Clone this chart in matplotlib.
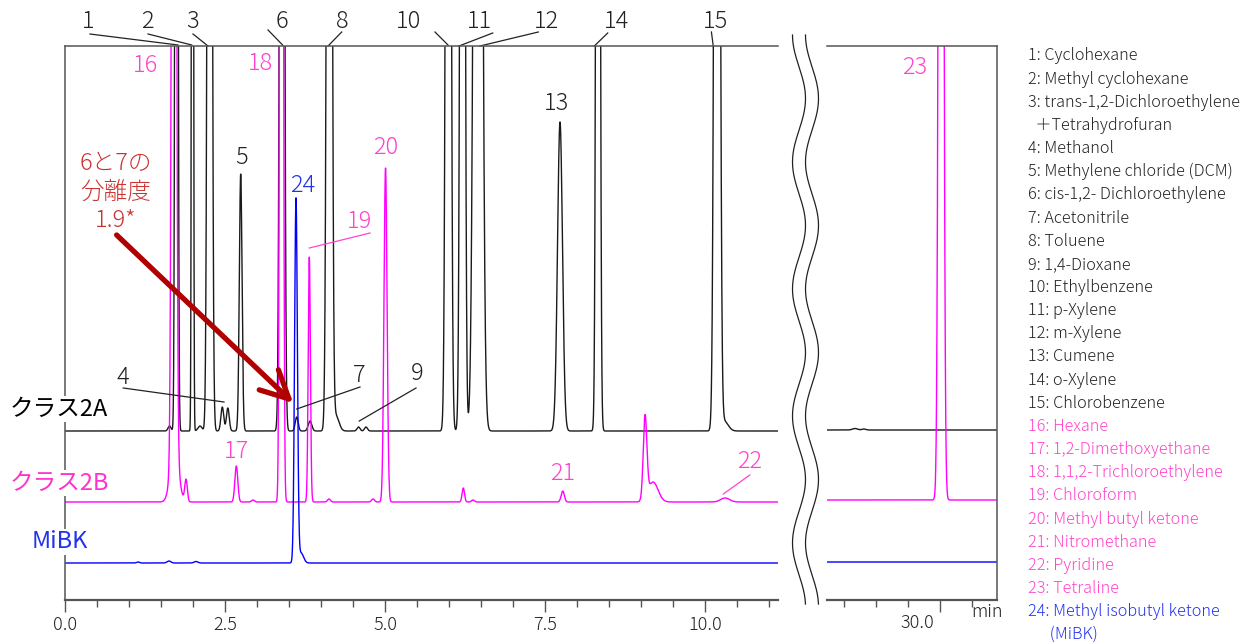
import matplotlib
matplotlib.use('Agg')
import matplotlib.pyplot as plt
import numpy as np

plt.rcParams['font.family'] = ['Noto Sans CJK JP', 'DejaVu Sans']
plt.rcParams['font.weight'] = 'light'

# peak tables: retention time (min), height, sigma (min)
a_rt = [1.633, 1.742, 1.992, 2.109, 2.261, 2.458, 2.544, 2.745, 3.391, 3.620, 3.828,
        4.130, 4.234, 4.586, 4.703, 5.989, 6.211, 6.453, 7.734, 8.328, 10.188, 10.297]
a_h = [5, 2000, 2000, 5, 2000, 24, 23, 257, 2000, 14, 10,
       2000, 15, 4, 4, 2000, 2000, 2000, 309, 2000, 2000, 10]
a_s = [0.023, 0.017, 0.011, 0.031, 0.026, 0.022, 0.022, 0.021, 0.026, 0.023, 0.028,
       0.029, 0.047, 0.023, 0.023, 0.029, 0.027, 0.047, 0.0385, 0.023, 0.032, 0.0625]

b_rt = [1.711, 1.703, 1.891, 2.677, 2.938, 3.383, 3.817, 4.125, 4.813, 5.008,
        6.223, 6.375, 7.777, 9.063, 9.188, 10.313]
b_h = [55, 2000, 22, 36, 2, 2000, 245, 3, 3, 334, 14, 2, 11, 82, 20, 4]
b_s = [0.0625, 0.026, 0.020, 0.023, 0.023, 0.020, 0.017, 0.023, 0.023, 0.024,
       0.019, 0.023, 0.025, 0.028, 0.078, 0.07]

m_rt = [1.141, 1.625, 2.047, 3.609, 3.688]
m_h = [1, 2, 1.5, 364, 10]
m_s = [0.023, 0.03, 0.03, 0.022, 0.039]

# late part (after the axis break)
a2_rt = [28.672, 28.81]
a2_h = [1.5, 1]
a2_s = [0.04, 0.03]
b2_rt = [30.016]
b2_h = [2000]
b2_s = [0.029]

base_a, base_b, base_m = 169, 98, 37
base_a2, base_b2, base_m2 = 170, 100, 38

legend_items = [
    ('1: Cyclohexane', 'k'), ('2: Methyl cyclohexane', 'k'),
    ('3: trans-1,2-Dichloroethylene', 'k'), ('  ＋Tetrahydrofuran', 'k'),
    ('4: Methanol', 'k'), ('5: Methylene chloride (DCM)', 'k'),
    ('6: cis-1,2- Dichloroethylene', 'k'), ('7: Acetonitrile', 'k'),
    ('8: Toluene', 'k'), ('9: 1,4-Dioxane', 'k'), ('10: Ethylbenzene', 'k'),
    ('11: p-Xylene', 'k'), ('12: m-Xylene', 'k'), ('13: Cumene', 'k'),
    ('14: o-Xylene', 'k'), ('15: Chlorobenzene', 'k'),
    ('16: Hexane', 'p'), ('17: 1,2-Dimethoxyethane', 'p'),
    ('18: 1,1,2-Trichloroethylene', 'p'), ('19: Chloroform', 'p'),
    ('20: Methyl butyl ketone', 'p'), ('21: Nitromethane', 'p'),
    ('22: Pyridine', 'p'), ('23: Tetraline', 'p'),
    ('24: Methyl isobutyl ketone', 'b'), ('      (MiBK)', 'b'),
]

BLACK = '#1a1a1a'
MAG = '#ff00ff'
PINK = '#ff44cc'
BLUE = '#0000ff'
BLUE_T = '#2233ee'
GRAY = '#555555'
colmap = {'k': '#222222', 'p': PINK, 'b': BLUE_T}


def trace(t, rts, hs, ss, base):
    y = np.full_like(t, float(base))
    for r, h, s in zip(rts, hs, ss):
        y += h * np.exp(-0.5 * ((t - r) / s) ** 2)
    return y


t1 = np.linspace(0, 11.14, 9000)
t2 = np.linspace(28.234, 30.89, 2500)

fig = plt.figure(figsize=(12.56, 6.44), dpi=100)
ax = fig.add_axes([65 / 1256, 1 - 600 / 644, 713 / 1256, 554 / 644])
ax2 = fig.add_axes([827 / 1256, 1 - 600 / 644, 170 / 1256, 554 / 644])

lw = 1.0
ax.plot(t1, trace(t1, a_rt, a_h, a_s, base_a), color=BLACK, lw=lw)
ax.plot(t1, trace(t1, b_rt, b_h, b_s, base_b), color=MAG, lw=lw)
ax.plot(t1, trace(t1, m_rt, m_h, m_s, base_m), color=BLUE, lw=lw)
ax2.plot(t2, trace(t2, a2_rt, a2_h, a2_s, base_a2), color=BLACK, lw=lw)
ax2.plot(t2, trace(t2, b2_rt, b2_h, b2_s, base_b2), color=MAG, lw=lw)
ax2.plot(t2, np.full_like(t2, float(base_m2)), color=BLUE, lw=lw)

for a in (ax, ax2):
    a.set_ylim(0, 554)
    a.set_yticks([])
    for s in a.spines.values():
        s.set_color(GRAY)
        s.set_linewidth(1.1)
    a.spines['bottom'].set_linewidth(1.6)
    a.tick_params(axis='x', which='major', length=8.5, width=1, color=GRAY,
                  labelsize=13, labelcolor='#222222', pad=3)
    a.tick_params(axis='x', which='minor', length=5, width=1, color=GRAY)

ax.set_xlim(0, 11.14)
ax.spines['right'].set_visible(False)
ax.set_xticks([0, 2.5, 5, 7.5, 10])
ax.set_xticklabels(['0.0', '2.5', '5.0', '7.5', '10.0'])
ax.set_xticks(np.arange(0.5, 11.1, 0.5), minor=True)

ax2.set_xlim(28.234, 30.89)
ax2.spines['left'].set_visible(False)
ax2.set_xticks([30])
ax2.set_xticklabels([''])
ax2.set_xticks([28.5, 29, 29.5, 30.5], minor=True)
ax2.text(29.64, -23, '30.0', ha='center', va='center', fontsize=13,
         color='#222222', clip_on=False)
ax2.text(30.73, -12, 'min', ha='center', va='center', fontsize=13,
         color='#222222', clip_on=False)

# peak labels with leader lines
fs = 17
top_labels = [
    ('1', 0.367, (0.39, 566), (1.766, 555)),
    ('2', 1.281, (1.297, 566), (1.98, 555)),
    ('3', 2.0, (2.0, 566), (2.234, 554)),
    ('6', 3.39, (3.172, 570), (3.40, 555)),
    ('8', 4.328, (4.323, 568), (4.11, 554)),
    ('10', 5.36, (5.781, 568), (5.984, 555)),
    ('11', 6.484, (6.683, 567), (6.156, 554)),
    ('12', 7.527, (7.395, 568), (6.484, 554)),
    ('14', 8.62, (8.48, 567), (8.27, 554)),
    ('15', 10.156, (10.10, 568), (10.13, 553)),
]
for lab, x, p0, p1 in top_labels:
    ax.text(x, 579, lab, ha='center', va='center', fontsize=fs, color='#222222',
            clip_on=False)
    ax.plot([p0[0], p1[0]], [p0[1], p1[1]], color='#222222', lw=0.9, clip_on=False)

other_labels = [
    ('5', 2.76, 442, '#222222', None),
    ('13', 7.683, 497, '#222222', None),
    ('4', 0.90, 223, '#222222', ((0.91, 212), (2.484, 198))),
    ('7', 4.594, 225, '#222222', ((4.609, 213), (3.62, 191))),
    ('9', 5.495, 227, '#222222', ((5.484, 212), (4.598, 179))),
    ('16', 1.25, 535, PINK, None),
    ('18', 3.047, 536, PINK, None),
    ('17', 2.683, 149, PINK, None),
    ('20', 5.016, 452, PINK, None),
    ('19', 4.594, 378, PINK, ((3.817, 352), (4.766, 367))),
    ('21', 7.777, 127, PINK, None),
    ('22', 10.70, 139, PINK, ((10.70, 125), (10.286, 106))),
    ('24', 3.719, 414, BLUE_T, None),
]
for lab, x, y, c, seg in other_labels:
    ax.text(x, y, lab, ha='center', va='center', fontsize=fs, color=c)
    if seg:
        ax.plot([seg[0][0], seg[1][0]], [seg[0][1], seg[1][1]], color=c, lw=0.9)

ax2.text(29.61, 533, '23', ha='center', va='center', fontsize=fs, color=PINK)

# resolution note and arrow
ax.text(0.797, 408, '6と7の\n分離度\n1.9*', ha='center', va='center', fontsize=17,
        color='#cc3333', linespacing=1.2)
ax.annotate('', xy=(3.566, 197), xytext=(0.807, 365),
            arrowprops=dict(arrowstyle='->,head_length=1.0,head_width=0.5',
                            color='#b00000', lw=3.8, mutation_scale=20,
                            shrinkA=0, shrinkB=0))

# trace names
box = dict(facecolor='white', edgecolor='none', pad=1)
ax.text(-0.86, 191, 'クラス2A', ha='left', va='center', fontsize=17, color='black',
        fontweight='normal', bbox=box, clip_on=False)
ax.text(-0.86, 117, 'クラス2B', ha='left', va='center', fontsize=17, color='#ff33cc',
        fontweight='normal', bbox=box, clip_on=False)
ax.text(-0.516, 58, 'MiBK', ha='left', va='center', fontsize=17, color=BLUE_T,
        fontweight='normal', bbox=box, clip_on=False)

# axis break marks
yy = np.linspace(35, 604, 400)
for xc in (799, 812):
    xx = xc - 6.5 * np.cos(2 * np.pi * (yy - 35) / 127)
    fig.add_artist(plt.Line2D(xx / 1256, 1 - yy / 644, color='#222222', lw=0.9))

# compound list
for i, (txt, c) in enumerate(legend_items):
    fig.text(1028 / 1256, 1 - (56 + 23.15 * i) / 644, txt, ha='left', va='center',
             fontsize=11.7, color=colmap[c])

fig.savefig('out.png', dpi=100)
